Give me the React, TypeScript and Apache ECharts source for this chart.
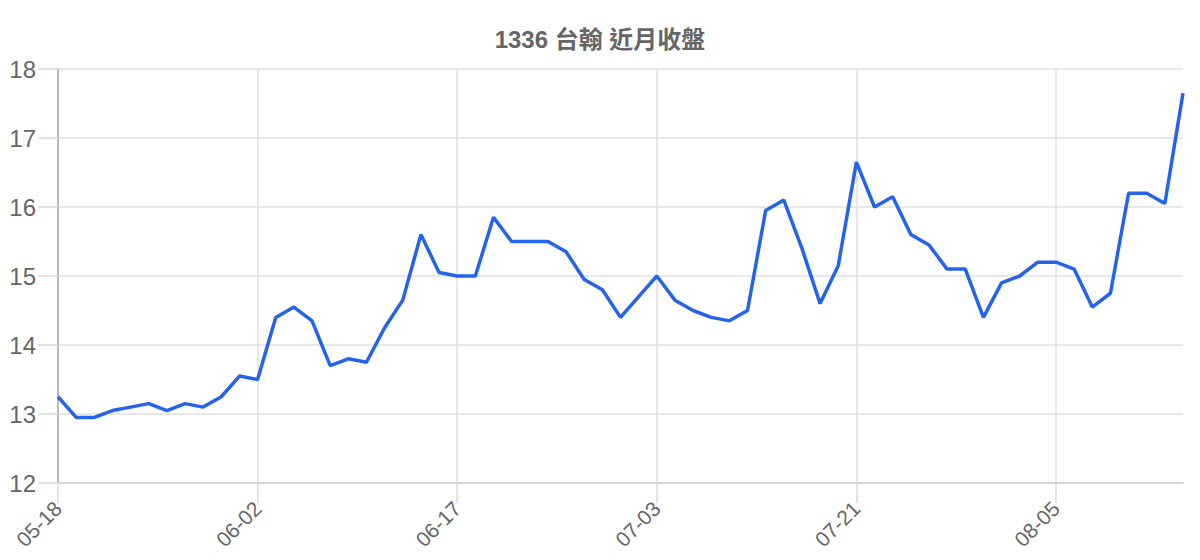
import React, { useEffect, useRef } from "react";
import * as echarts from "echarts";

const dates: string[] = [
  "05-18", "05-19", "05-20", "05-21", "05-22", "05-25", "05-26", "05-27", "05-28", "05-29",
  "06-01", "06-02", "06-03", "06-04", "06-05", "06-08", "06-09", "06-10", "06-11", "06-12",
  "06-15", "06-16", "06-17", "06-18", "06-19", "06-20", "06-22", "06-23", "06-24", "06-29",
  "06-30", "07-01", "07-02", "07-03", "07-06", "07-07", "07-08", "07-09", "07-10", "07-13",
  "07-14", "07-15", "07-16", "07-20", "07-21", "07-22", "07-23", "07-24", "07-27", "07-28",
  "07-29", "07-30", "07-31", "08-03", "08-04", "08-05", "08-06", "08-07", "08-10", "08-11",
  "08-12", "08-13", "08-14",
];

const closes: number[] = [
  13.25, 12.95, 12.95, 13.05, 13.1, 13.15, 13.05, 13.15, 13.1, 13.25,
  13.55, 13.5, 14.4, 14.55, 14.35, 13.7, 13.8, 13.75, 14.25, 14.65,
  15.6, 15.05, 15.0, 15.0, 15.85, 15.5, 15.5, 15.5, 15.35, 14.95,
  14.8, 14.4, 14.7, 15.0, 14.65, 14.5, 14.4, 14.35, 14.5, 15.95,
  16.1, 15.4, 14.6, 15.15, 16.65, 16.0, 16.15, 15.6, 15.45, 15.1,
  15.1, 14.4, 14.9, 15.0, 15.2, 15.2, 15.1, 14.55, 14.75, 16.2,
  16.2, 16.05, 17.65,
];

const titleText = "1336 台翰 近月收盤";

export default function App() {
  const ref = useRef<HTMLDivElement>(null);
  useEffect(() => {
    if (!ref.current) return;
    const chart = echarts.init(ref.current, null, { renderer: "svg" });
    const font = "'Liberation Sans', Arial, 'Noto Sans CJK TC', sans-serif";
    chart.setOption({
      animation: false,
      title: {
        text: titleText,
        left: "center",
        top: 22,
        textStyle: { color: "#666", fontSize: 24, fontWeight: "bold", fontFamily: font },
      },
      grid: { left: 58, right: 17, top: 69, bottom: 77, containLabel: false },
      xAxis: {
        type: "category",
        data: dates,
        boundaryGap: false,
        axisLine: { show: true, onZero: false, lineStyle: { color: "#d0d0d0", width: 1.5 } },
        axisTick: { show: true, inside: false, interval: 10, length: 20, lineStyle: { color: "#dadada", width: 1.5 } },
        axisLabel: {
          interval: 10,
          rotate: 45,
          margin: 22,
          fontSize: 21,
          color: "#666",
          fontFamily: font,
        },
        splitLine: { show: true, interval: 10, lineStyle: { color: "#e0e0e0", width: 1.5 } },
      },
      yAxis: {
        type: "value",
        min: 12,
        max: 18,
        interval: 1,
        axisLine: { show: true, lineStyle: { color: "#aaaaaa", width: 1.5 } },
        axisTick: { show: true, inside: false, length: 20, lineStyle: { color: "#dadada", width: 1.5 } },
        axisLabel: { margin: 22, fontSize: 24, color: "#666", fontFamily: font },
        splitLine: { show: true, lineStyle: { color: "#e0e0e0", width: 1.5 } },
      },
      series: [
        {
          type: "line",
          data: closes,
          symbol: "none",
          lineStyle: { color: "#2563eb", width: 3.5 },
          itemStyle: { color: "#2563eb" },
        },
      ],
    });
    return () => chart.dispose();
  }, []);
  return (
    <div
      ref={ref}
      style={{ position: "fixed", left: 0, top: 0, width: 1200, height: 560, background: "#fff" }}
    />
  );
}
